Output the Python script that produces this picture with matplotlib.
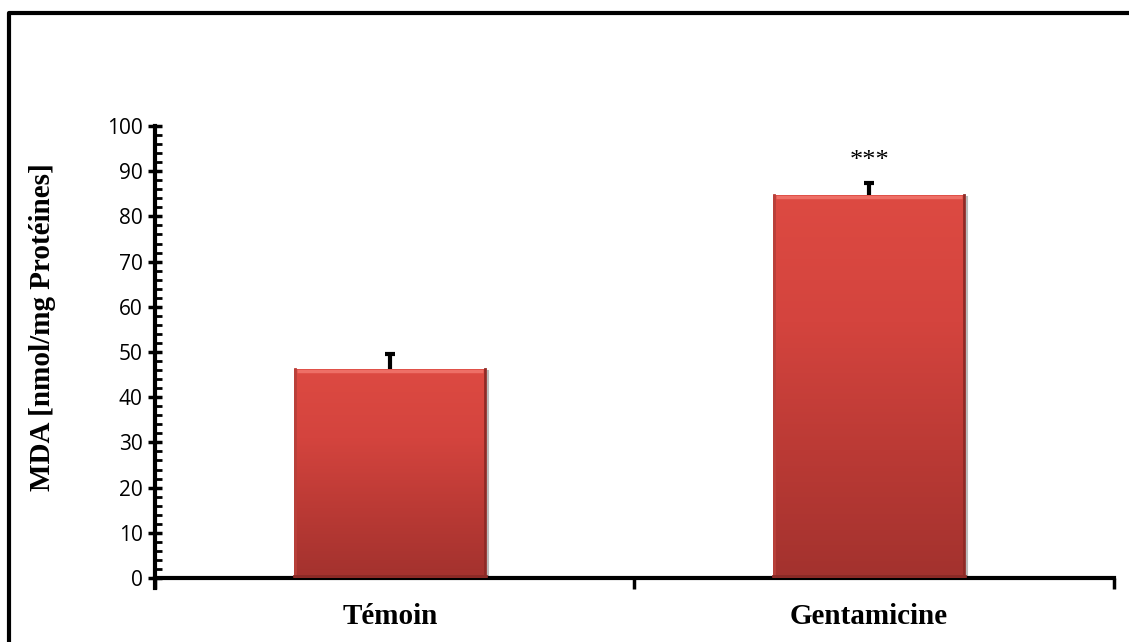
import numpy as np
import matplotlib.pyplot as plt
from matplotlib.colors import LinearSegmentedColormap
from matplotlib.lines import Line2D
from matplotlib.ticker import MultipleLocator

groups = ["Témoin", "Gentamicine"]
mda = [46.3, 84.8]
sem = [3.2, 2.6]
stars = ["", "***"]

fig = plt.figure(figsize=(11.29, 6.42), dpi=100)
ax = fig.add_axes([0.1373, 0.0997, 0.8490, 0.7040])

x = np.arange(len(groups)) - 0.01
bar_w = 0.40

bars = ax.bar(x, mda, width=bar_w, color="#d5433d", zorder=2)

# upper half error bars only: stem plus a cap
for xi, val, err in zip(x, mda, sem):
    ax.plot([xi, xi], [val, val + err], color="black", lw=3, zorder=4,
            solid_capstyle="butt")
    ax.plot([xi - 0.011, xi + 0.011], [val + err, val + err], color="black",
            lw=3, zorder=4, solid_capstyle="butt")

# red gradient fill, darker towards the base
grad_cmap = LinearSegmentedColormap.from_list(
    "bar", ["#a3322e", "#bb3a35", "#d4443e", "#dd4a42"])
grad = np.linspace(0, 1, 256).reshape(-1, 1)
for rect in bars:
    x0, w, h = rect.get_x(), rect.get_width(), rect.get_height()
    img = ax.imshow(grad, cmap=grad_cmap, origin="lower", aspect="auto",
                    extent=[x0, x0 + w, 0, h], zorder=3)
    img.set_clip_path(rect)
    # bevel highlight on top, shading on sides
    ax.plot([x0 + 0.006, x0 + w - 0.006], [h - 0.5, h - 0.5],
            color="#ee6f66", lw=2.5, zorder=3.5, solid_capstyle="butt")
    ax.plot([x0 + 0.002, x0 + 0.002], [0, h], color="#b8403a", lw=2, zorder=3.5)
    ax.plot([x0 + w - 0.002, x0 + w - 0.002], [0, h], color="#8e2a26", lw=2, zorder=3.5)
    ax.plot([x0, x0 + w], [0.5, 0.5], color="#8a2a26", lw=2, zorder=3.5)
    ax.plot([x0 + w + 0.004] * 2, [0, h - 0.5], color="#bbbbbb", lw=1.5, zorder=1.5)

for xi, val, err, s in zip(x, mda, sem, stars):
    if s:
        ax.text(xi, val + err + 2.5, s, ha="center", va="bottom",
                fontsize=19, family="Liberation Serif")

ax.set_xlim(-0.5, len(groups) - 0.5)
ax.set_ylim(0, 100)
ax.yaxis.set_major_locator(MultipleLocator(10))
ax.yaxis.set_minor_locator(MultipleLocator(2))
ax.set_xticks(x)
ax.set_xticklabels(groups, fontsize=21, fontweight="bold", family="Liberation Serif")
ax.set_xticks([-0.5, 0.5, 1.5], minor=True)
ax.tick_params(axis="x", which="major", length=0, pad=18)
ax.tick_params(axis="x", which="minor", length=8, width=2.5, direction="out")
ax.tick_params(axis="y", which="major", length=10, width=2.5, direction="inout",
               labelsize=15, pad=4)
ax.tick_params(axis="y", which="minor", length=5, width=2, direction="in")
for lbl in ax.get_yticklabels():
    lbl.set_family("Open Sans")

for side in ["top", "right"]:
    ax.spines[side].set_visible(False)
for side in ["left", "bottom"]:
    ax.spines[side].set_linewidth(3)
ax.spines["left"].set_bounds(-2.2, 100)

ax.set_ylabel("MDA [nmol/mg Protéines]", fontsize=21, fontweight="bold",
              family="Liberation Serif")
ax.yaxis.set_label_coords(-0.103, 0.555)

# outer border running off the right and bottom edges
fx0 = 9 / 1129
fy0 = 1 - 13 / 642
fig.add_artist(Line2D([fx0, fx0, 1.05], [-0.05, fy0, fy0],
                      transform=fig.transFigure, color="black", lw=3))

fig.savefig("out.png", dpi=100)
